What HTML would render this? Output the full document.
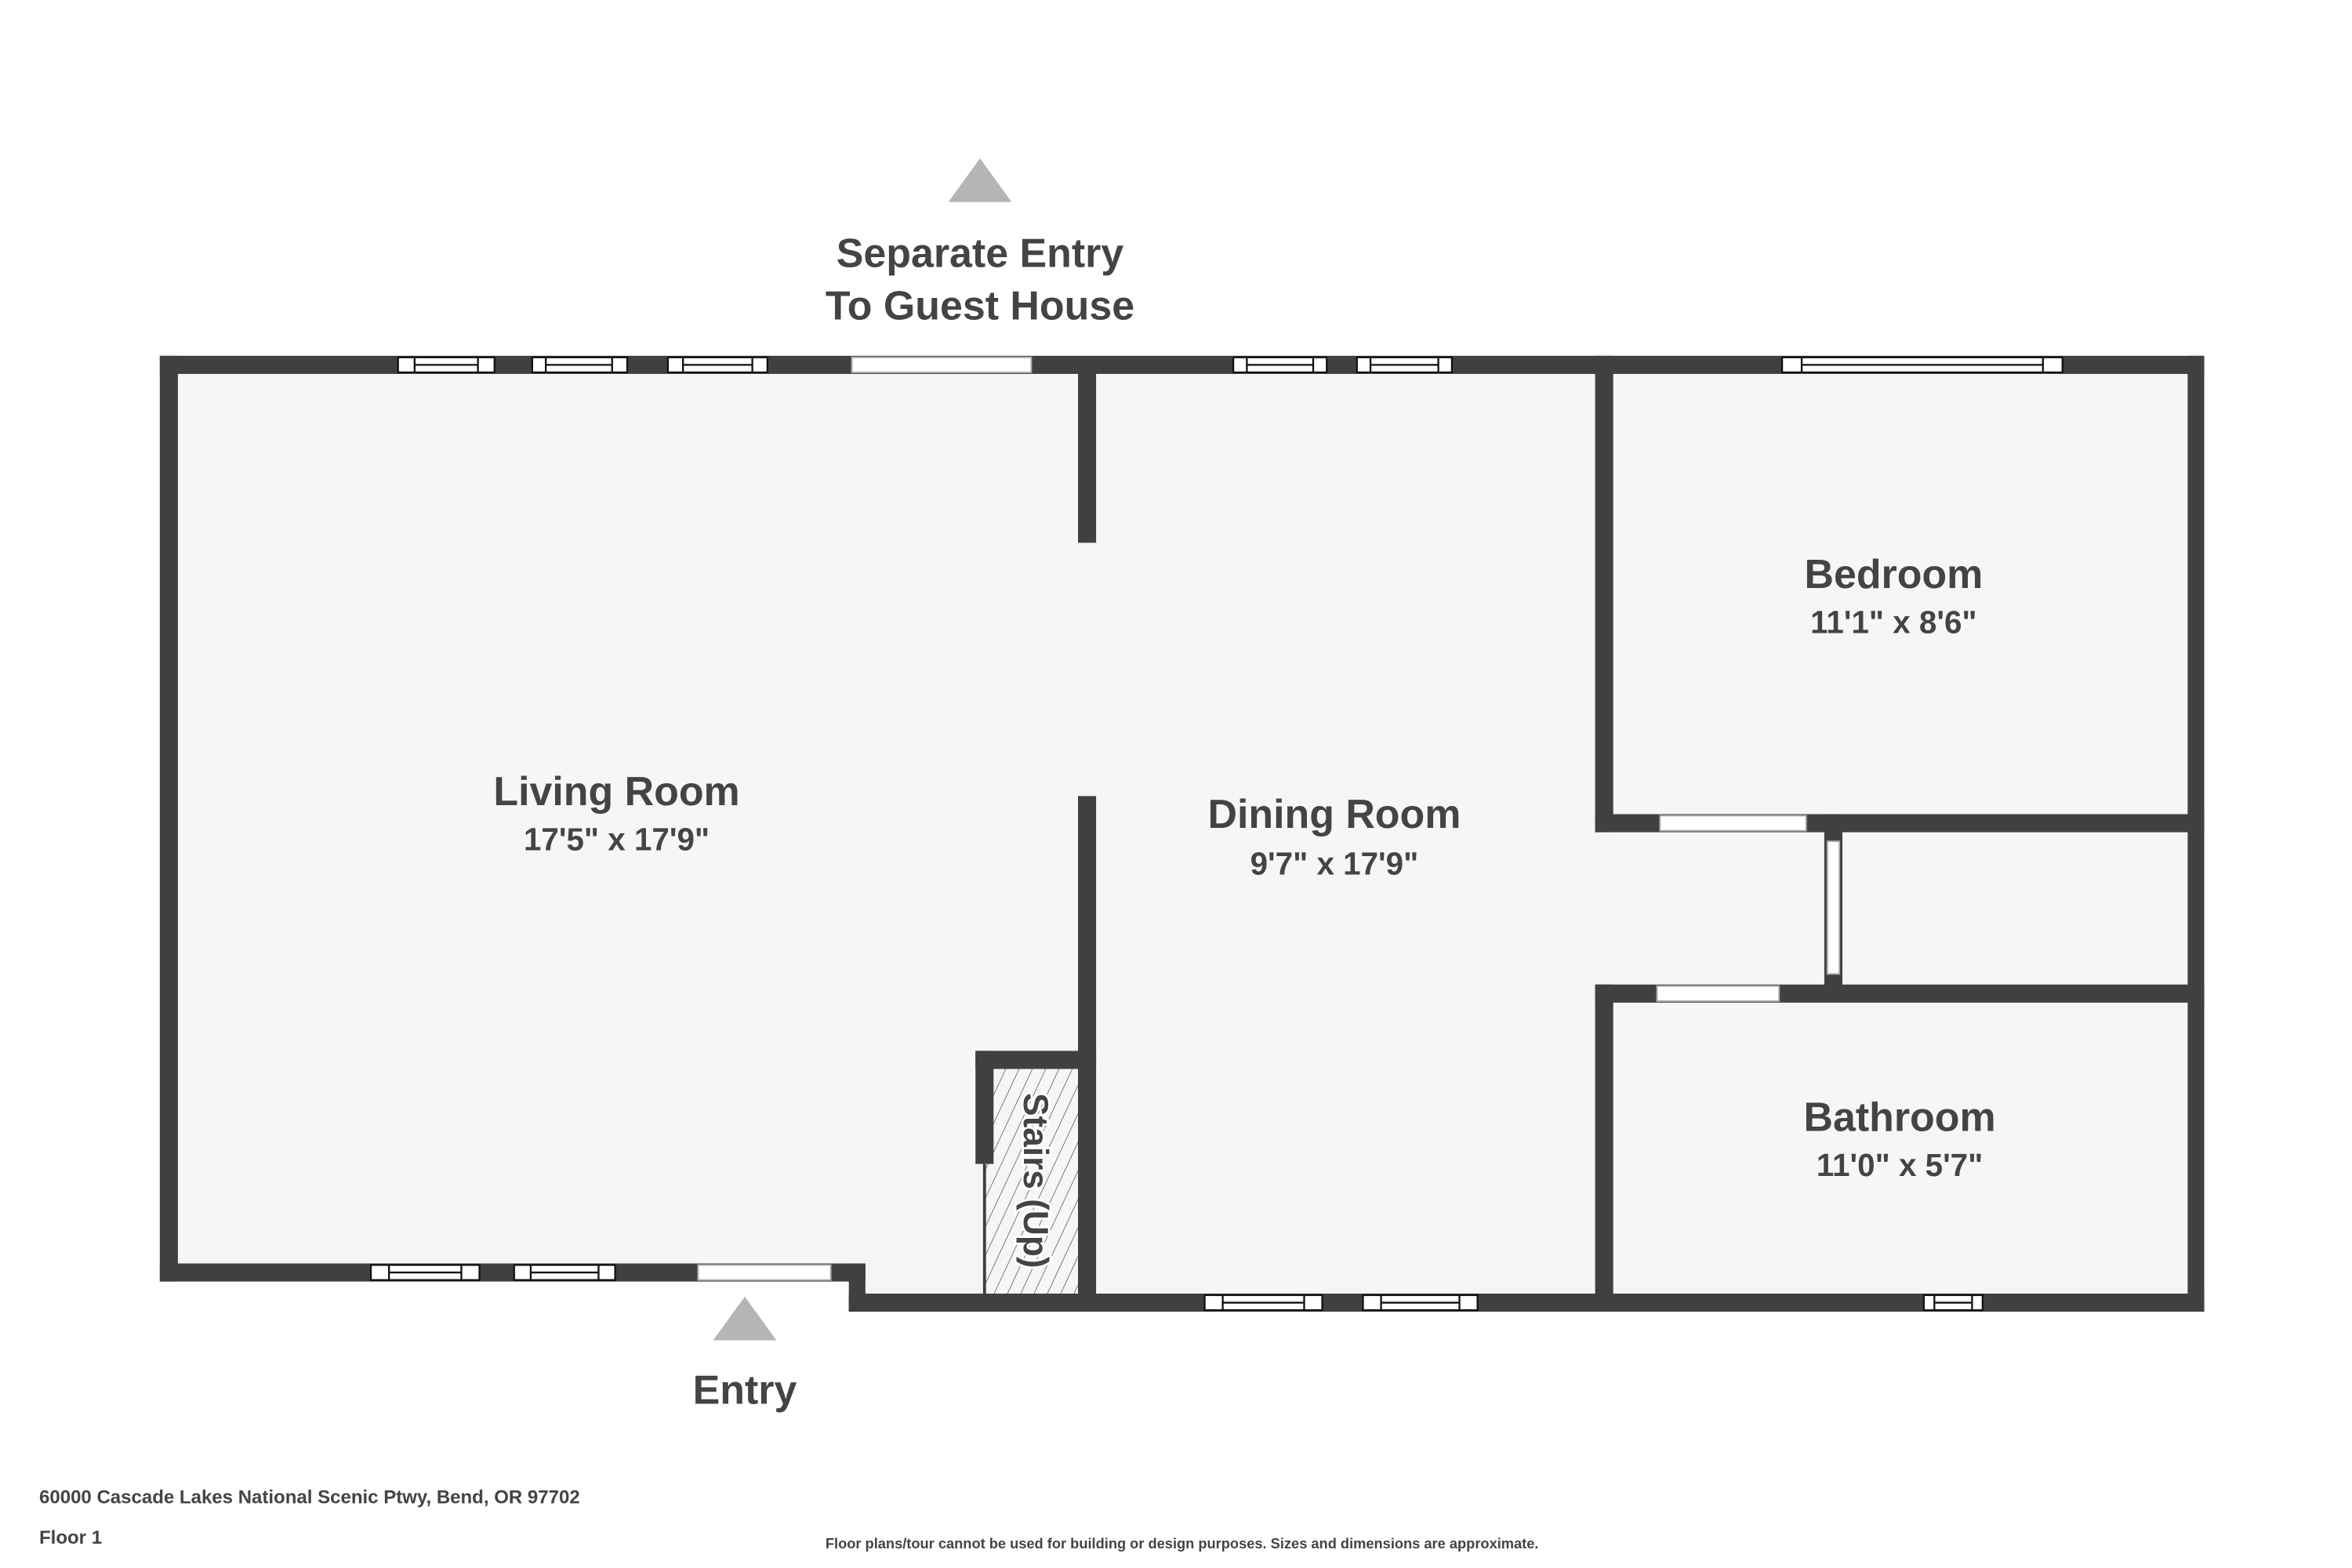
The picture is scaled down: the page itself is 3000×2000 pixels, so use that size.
<!DOCTYPE html>
<html><head><meta charset="utf-8"><style>html,body{margin:0;padding:0;background:#fff}svg{display:block}text{font-family:"Liberation Sans",sans-serif;font-weight:bold;fill:#444}</style></head><body>
<svg width="3000" height="2000" viewBox="0 0 1560 1040" xmlns="http://www.w3.org/2000/svg">
<defs><pattern id="h" width="8" height="8" patternUnits="userSpaceOnUse" patternTransform="rotate(25)"><rect width="8" height="8" fill="#f6f6f6"/><line x1="0" y1="0" x2="0" y2="8" stroke="#555" stroke-width="0.8"/></pattern></defs>
<!-- floor -->
<rect x="106" y="236" width="1356" height="634" fill="#f6f6f6"/>
<rect x="106" y="850" width="457" height="20" fill="#fff"/>
<rect x="653" y="709" width="62" height="149" fill="url(#h)"/>
<g fill="#404040">
<rect x="106" y="236" width="1356" height="12"/>
<rect x="106" y="236" width="12" height="614"/>
<rect x="1451" y="236" width="11" height="634"/>
<rect x="106" y="838" width="468" height="12"/>
<rect x="563" y="838" width="11" height="32"/>
<rect x="563" y="858" width="899" height="12"/>
<rect x="715" y="247" width="12" height="113"/>
<rect x="715" y="528" width="12" height="330"/>
<rect x="647" y="697" width="80" height="12"/>
<rect x="647" y="697" width="12" height="75"/>
<rect x="1058" y="236" width="12" height="316"/>
<rect x="1058" y="540" width="404" height="12"/>
<rect x="1210" y="540" width="12" height="120"/>
<rect x="1058" y="653" width="404" height="12"/>
<rect x="1058" y="653" width="12" height="217"/>
</g>
<line x1="653" y1="772" x2="653" y2="858" stroke="#404040" stroke-width="2"/>
<!-- doors -->
<g fill="#fff" stroke="#aaa" stroke-width="1">
<rect x="565" y="237" width="119" height="10"/>
<rect x="463" y="839" width="88" height="10"/>
<rect x="1101" y="541" width="97" height="10"/>
<rect x="1099" y="654" width="81" height="10"/>
<rect x="1212" y="558" width="8" height="88"/>
</g>
<!-- windows -->
<g fill="#fff" stroke="#111" stroke-width="1">
<g id="w"></g>
</g>
<g fill="#fff" stroke="#111" stroke-width="1.2">
<rect x="264" y="237" width="64" height="10"/><line x1="275" y1="237" x2="275" y2="247"/><line x1="317" y1="237" x2="317" y2="247"/><line x1="275" y1="242" x2="317" y2="242"/>
<rect x="353" y="237" width="63" height="10"/><line x1="362" y1="237" x2="362" y2="247"/><line x1="406" y1="237" x2="406" y2="247"/><line x1="362" y1="242" x2="406" y2="242"/>
<rect x="443" y="237" width="66" height="10"/><line x1="453" y1="237" x2="453" y2="247"/><line x1="499" y1="237" x2="499" y2="247"/><line x1="453" y1="242" x2="499" y2="242"/>
<rect x="818" y="237" width="62" height="10"/><line x1="827" y1="237" x2="827" y2="247"/><line x1="871" y1="237" x2="871" y2="247"/><line x1="827" y1="242" x2="871" y2="242"/>
<rect x="900" y="237" width="63" height="10"/><line x1="909" y1="237" x2="909" y2="247"/><line x1="954" y1="237" x2="954" y2="247"/><line x1="909" y1="242" x2="954" y2="242"/>
<rect x="1182" y="237" width="186" height="10"/><line x1="1195" y1="237" x2="1195" y2="247"/><line x1="1355" y1="237" x2="1355" y2="247"/><line x1="1195" y1="242" x2="1355" y2="242"/>
<rect x="246" y="839" width="72" height="10"/><line x1="258" y1="839" x2="258" y2="849"/><line x1="306" y1="839" x2="306" y2="849"/><line x1="258" y1="844" x2="306" y2="844"/>
<rect x="341" y="839" width="67" height="10"/><line x1="352" y1="839" x2="352" y2="849"/><line x1="397" y1="839" x2="397" y2="849"/><line x1="352" y1="844" x2="397" y2="844"/>
<rect x="799" y="859" width="78" height="10"/><line x1="811" y1="859" x2="811" y2="869"/><line x1="865" y1="859" x2="865" y2="869"/><line x1="811" y1="864" x2="865" y2="864"/>
<rect x="904" y="859" width="76" height="10"/><line x1="916" y1="859" x2="916" y2="869"/><line x1="968" y1="859" x2="968" y2="869"/><line x1="916" y1="864" x2="968" y2="864"/>
<rect x="1276" y="859" width="39" height="10"/><line x1="1283" y1="859" x2="1283" y2="869"/><line x1="1308" y1="859" x2="1308" y2="869"/><line x1="1283" y1="864" x2="1308" y2="864"/>
</g>
<!-- arrows -->
<polygon points="650,105 671,134 629,134" fill="#b5b5b5"/>
<polygon points="494,860 515,889 473,889" fill="#b5b5b5"/>
<!-- labels -->
<g text-anchor="middle">
<text x="650" y="177" font-size="27">Separate Entry</text>
<text x="650" y="212" font-size="27">To Guest House</text>
<text x="409" y="534" font-size="27">Living Room</text>
<text x="409" y="564" font-size="21">17'5" x 17'9"</text>
<text x="885" y="549" font-size="27">Dining Room</text>
<text x="885" y="580" font-size="21">9'7" x 17'9"</text>
<text x="1256" y="390" font-size="27">Bedroom</text>
<text x="1256" y="420" font-size="21">11'1" x 8'6"</text>
<text x="1260" y="750" font-size="27">Bathroom</text>
<text x="1260" y="780" font-size="21">11'0" x 5'7"</text>
<text x="494" y="931" font-size="27">Entry</text>
<text transform="translate(679,783) rotate(90)" font-size="23" stroke="#fff" stroke-width="3" paint-order="stroke">Stairs (Up)</text>
<text x="784" y="1027" font-size="9.5">Floor plans/tour cannot be used for building or design purposes. Sizes and dimensions are approximate.</text>
</g>
<text x="26" y="997" font-size="12.5">60000 Cascade Lakes National Scenic Ptwy, Bend, OR 97702</text>
<text x="26" y="1024" font-size="12.5">Floor 1</text>
</svg>
</body></html>
